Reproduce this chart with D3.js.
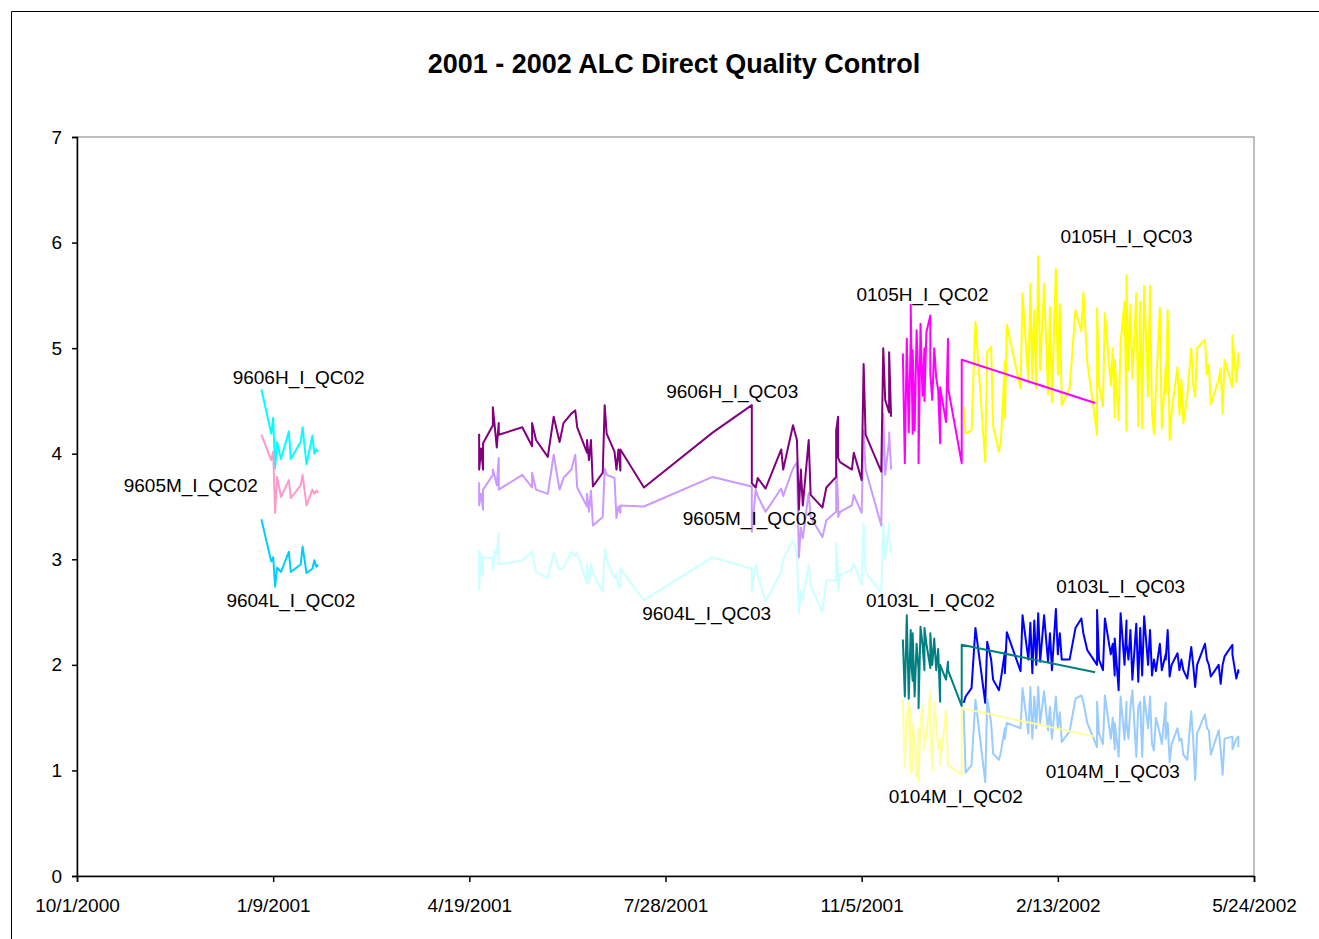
<!DOCTYPE html>
<html lang="en">
<head>
<meta charset="UTF-8">
<title>2001 - 2002 ALC Direct Quality Control</title>
<script src="https://d3js.org/d3.v7.min.js"></script>
<style>
    body { margin: 0; background: #fff; font-family: "Liberation Sans", Arial, sans-serif; }
    svg { display: block; }
    .tick text { font-family: "Liberation Sans", Arial, sans-serif; font-size: 19px; fill: #000; }
    .serie { fill: none; stroke-width: 2; stroke-linejoin: round; }
    .lbl { font-size: 19px; fill: #000; }
</style>
</head>
<body>
<div id="chart"></div>
<script>
// x values are Excel date serials (36800 = 10/1/2000)
var xTicks = [36800, 36900, 37000, 37100, 37200, 37300, 37400];
var yTicks = [0, 1, 2, 3, 4, 5, 6, 7];

// QC02, Jan 2001
var datesA = [36894, 36899, 36900, 36901, 36902, 36904, 36908, 36909, 36914, 36915, 36917, 36920, 36921, 36922, 36923];
var h9606qc02 = [4.61,4.19,4.34,3.86,4.11,3.95,4.21,3.95,4.11,4.25,3.90,4.17,4.00,4.04,4.02];
var m9605qc02 = [4.18,3.94,4.02,3.44,3.78,3.59,3.75,3.58,3.70,3.80,3.51,3.66,3.62,3.65,3.63];
var l9604qc02 = [3.38,2.98,3.02,2.74,2.92,2.88,3.07,2.88,2.95,3.12,2.87,2.91,2.99,2.93,2.95];

// QC03, Apr - Nov 2001
var datesB = [37005,37005,37006,37007,37007,37012,37012,37013,37014,37015,
              37015,37027,37032,37032,37034,37040,37043,37046,37048,37052,
              37054,37055,37060,37060,37061,37062,37063,37068,37069,37070,
              37074,37075,37076,37077,37077,37089,37124,37144,37144,37144,
              37146,37147,37151,37159,37160,37165,37167,37168,37169,37170,
              37173,37174,37180,37182,37187,37187,37188,37188,37189,37195,
              37196,37200,37201,37202,37210,37211,37212,37214,37214,37215];
var h9606qc03 = [4.19,3.85,4.05,3.85,4.10,4.27,4.44,4.25,4.06,4.29,
                 4.18,4.25,4.07,4.29,4.13,3.97,4.35,4.11,4.29,4.38,
                 4.41,4.25,4.01,4.13,3.94,4.13,3.69,3.82,4.46,4.19,
                 4.02,3.85,4.04,3.84,4.04,3.68,4.20,4.46,4.08,3.72,
                 3.68,3.77,3.67,4.04,3.85,4.27,4.13,3.47,3.85,3.51,
                 4.13,3.61,3.49,3.68,3.78,4.22,4.35,3.96,3.92,3.85,
                 4.01,3.75,4.85,4.18,3.83,5.00,4.51,4.39,4.96,4.35];
var m9605qc03 = [3.73,3.51,3.62,3.47,3.66,3.80,3.85,3.78,3.70,3.96,
                 3.66,3.80,3.68,3.82,3.66,3.62,3.99,3.66,3.77,3.85,
                 3.99,3.68,3.50,3.62,3.45,3.65,3.32,3.40,3.86,3.80,
                 3.77,3.39,3.50,3.44,3.51,3.50,3.78,3.69,3.50,3.26,
                 3.66,3.60,3.45,3.67,3.60,3.86,3.92,3.02,3.30,3.20,
                 3.63,3.40,3.21,3.37,3.45,3.92,3.55,3.40,3.45,3.51,
                 3.61,3.44,4.22,3.85,3.32,4.38,3.80,4.13,4.20,3.85];
var l9604qc03 = [3.09,2.71,3.05,2.85,3.02,3.01,2.90,3.08,3.05,3.25,
                 2.95,2.99,3.07,3.08,2.88,2.82,3.06,2.90,2.92,3.07,
                 3.03,3.06,2.77,2.95,2.78,2.96,2.87,2.69,3.10,3.00,
                 2.82,2.86,2.75,2.73,2.91,2.61,3.02,2.91,2.80,2.69,
                 2.95,2.85,2.60,2.88,3.00,3.18,3.05,2.49,2.70,2.62,
                 2.95,2.75,2.50,2.80,2.80,3.15,2.90,2.70,2.85,2.90,
                 2.96,2.76,3.34,2.88,2.68,3.34,3.00,3.34,3.20,3.06];

// QC02, Nov 2001 - Mar 2002
var datesC = [37221,37222,37223,37224,37225,37225,37226,37226,37227,37228,
              37229,37229,37230,37231,37232,37232,37233,37235,37235,37236,
              37237,37238,37239,37240,37240,37243,37244,37244,37251,37251,
              37319];
var h0105qc02 = [4.95,3.91,5.09,4.20,5.09,5.41,4.19,4.98,4.22,5.17,
                 4.65,3.91,5.23,4.55,5.00,4.50,5.15,5.31,4.75,4.51,
                 5.00,4.72,4.60,4.10,4.63,4.30,5.09,4.63,3.91,4.89,
                 4.48];
var l0103qc02 = [2.24,1.70,2.47,1.68,2.33,2.10,1.85,2.30,1.70,2.20,
                 1.95,1.59,2.36,2.20,1.95,2.35,2.20,1.97,2.30,2.00,
                 2.25,1.95,2.15,1.65,2.00,1.86,2.03,1.95,1.61,2.19,
                 1.93];
var m0104qc02 = [1.67,1.03,1.50,1.64,0.97,1.60,1.00,1.45,1.30,0.94,
                 1.40,0.89,1.45,1.60,1.20,1.35,1.30,1.76,1.40,1.00,
                 1.65,1.45,1.20,1.30,1.05,1.57,1.05,1.05,0.96,1.59,
                 1.32];

// QC03, Dec 2001 - May 2002
var datesD = [37252,37253,37256,37258,37263,37264,37266,37267,37270,37271,
              37273,37273,37274,37281,37282,37285,37286,37287,37288,37289,
              37290,37291,37293,37295,37296,37297,37299,37300,37301,37302,
              37306,37309,37312,37313,37315,37320,37320,37321,37323,37324,
              37327,37328,37329,37329,37331,37332,37334,37335,37335,37336,
              37337,37338,37340,37341,37342,37343,37344,37346,37347,37348,
              37349,37350,37352,37353,37355,37355,37356,37357,37358,37361,
              37362,37363,37364,37366,37368,37369,37370,37371,37375,37376,
              37377,37378,37382,37383,37384,37385,37389,37389,37391,37392,
              37392];
var h0105qc03 = [4.45,4.19,4.22,5.25,3.92,4.97,5.01,4.26,4.02,4.13,
                 4.87,4.34,5.22,4.62,5.52,4.67,5.61,4.70,5.36,4.62,
                 5.87,4.79,5.61,4.56,5.39,4.49,5.75,4.75,5.42,4.46,
                 4.62,5.36,5.16,5.53,4.87,4.18,5.38,4.65,4.45,5.33,
                 4.65,5.00,4.34,4.89,4.32,5.05,5.44,4.22,5.69,4.79,
                 5.41,4.71,5.52,4.26,5.44,4.24,5.59,4.54,5.59,4.38,
                 4.19,4.60,5.38,4.24,4.82,4.57,5.36,4.13,4.40,4.82,
                 4.37,4.70,4.29,4.55,5.00,4.65,4.54,5.00,5.08,4.75,
                 4.84,4.47,4.70,4.81,4.38,4.89,4.63,5.12,4.68,4.95,
                 4.82];
var l0103qc03 = [1.64,1.70,1.78,2.35,1.64,2.22,2.05,1.86,1.76,1.87,
                 2.12,1.92,2.31,1.94,2.47,2.05,2.40,1.92,2.42,2.00,
                 2.49,2.03,2.47,2.03,2.30,1.95,2.53,2.10,2.30,2.05,
                 2.05,2.35,2.44,2.30,2.14,2.00,2.52,2.05,1.95,2.44,
                 2.10,2.20,1.90,2.25,1.76,2.49,2.00,2.42,2.20,2.05,
                 2.33,1.86,2.39,1.84,2.35,1.90,2.46,2.00,2.33,1.90,
                 2.05,1.94,2.20,1.95,2.10,2.05,2.33,1.89,2.00,2.11,
                 1.95,2.05,1.95,1.87,2.17,2.00,1.79,2.00,2.20,2.05,
                 2.00,1.89,2.00,1.82,2.00,2.08,2.19,2.10,1.87,1.95,
                 1.92];
var m0104qc03 = [1.57,0.98,1.05,1.67,0.89,1.68,1.45,1.16,1.10,1.18,
                 1.40,1.30,1.45,1.40,1.78,1.35,1.79,1.30,1.70,1.40,
                 1.79,1.45,1.75,1.38,1.60,1.30,1.70,1.40,1.55,1.27,
                 1.37,1.68,1.71,1.65,1.45,1.22,1.65,1.35,1.25,1.71,
                 1.30,1.50,1.20,1.45,1.13,1.70,1.29,1.65,1.45,1.30,
                 1.60,1.76,1.13,1.60,1.65,1.13,1.70,1.40,1.70,1.25,
                 1.19,1.50,1.35,1.25,1.64,1.30,1.45,1.08,1.25,1.40,
                 1.28,1.30,1.15,1.10,1.56,1.30,0.91,1.35,1.53,1.40,
                 1.38,1.15,1.38,1.20,0.96,1.30,1.32,1.20,1.30,1.32,
                 1.22];

// series label anchors (date serial, value) = centre of the label text
var labelNames = ['9606H_I_QC02','9605M_I_QC02','9604L_I_QC02',
                  '9606H_I_QC03','9605M_I_QC03','9604L_I_QC03',
                  '0105H_I_QC02','0103L_I_QC02','0104M_I_QC02',
                  '0105H_I_QC03','0103L_I_QC03','0104M_I_QC03'];
var labelDates = [36913, 36858, 36909, 37134, 37143, 37121, 37231, 37235, 37248, 37335, 37332, 37328];
var labelVals  = [4.72, 3.70, 2.61, 4.59, 3.39, 2.49, 5.51, 2.61, 0.75, 6.06, 2.74, 0.99];

var series = [
    {dates: datesA, vals: h9606qc02, color: '#00FFFF'},
    {dates: datesA, vals: m9605qc02, color: '#FF99CC'},
    {dates: datesA, vals: l9604qc02, color: '#00CCFF'},
    {dates: datesB, vals: l9604qc03, color: '#CCFFFF'},
    {dates: datesB, vals: m9605qc03, color: '#CC99FF'},
    {dates: datesB, vals: h9606qc03, color: '#800080'},
    {dates: datesD, vals: h0105qc03, color: '#FFFF00'},
    {dates: datesD, vals: l0103qc03, color: '#0000FF'},
    {dates: datesD, vals: m0104qc03, color: '#99CCFF'},
    {dates: datesC, vals: h0105qc02, color: '#FF00FF'},
    {dates: datesC, vals: l0103qc02, color: '#008080'},
    {dates: datesC, vals: m0104qc02, color: '#FFFF99'}
];

function toDate(serial) {
    return new Date(Date.UTC(1899, 11, 30) + serial * 86400000);
}

var w = 1319, h = 939;
var m = {top: 137, left: 77, bottom: 63, right: 65};

var svg = d3.select('#chart').append('svg')
    .attr('width', w)
    .attr('height', h);

// chart area border: only top and left edges are inside the picture
svg.append('path')
    .attr('d', 'M11.5,' + h + 'V11.5H' + w)
    .attr('fill', 'none')
    .attr('stroke', '#000');

var xScale = d3.scaleUtc()
    .domain([toDate(xTicks[0]), toDate(xTicks[xTicks.length - 1])])
    .range([m.left, w - m.right]);
var yScale = d3.scaleLinear()
    .domain([0, 7])
    .range([h - m.bottom, m.top]);

// plot area frame (grey)
svg.append('rect')
    .attr('x', m.left).attr('y', m.top)
    .attr('width', w - m.right - m.left).attr('height', h - m.bottom - m.top)
    .attr('fill', 'none')
    .attr('stroke', '#808080');

svg.append('text')
    .attr('x', 674).attr('y', 73)
    .attr('text-anchor', 'middle')
    .style('font-size', '27px')
    .style('font-weight', 'bold')
    .text('2001 - 2002 ALC Direct Quality Control');

var line = d3.line()
    .x(function(d){ return xScale(toDate(d[0])); })
    .y(function(d){ return yScale(d[1]); });

svg.append('g').selectAll('path')
    .data(series)
    .enter()
    .append('path')
    .attr('class', 'serie')
    .attr('stroke', function(s){ return s.color; })
    .attr('d', function(s){
        return line(s.dates.map(function(dt, i){ return [dt, s.vals[i]]; }));
    });

var fmt = d3.utcFormat('%-m/%-d/%Y');
var xAxis = d3.axisBottom(xScale)
    .tickValues(xTicks.map(toDate))
    .tickFormat(fmt)
    .tickSize(6)
    .tickPadding(17);
var yAxis = d3.axisLeft(yScale)
    .tickValues(yTicks)
    .tickFormat(d3.format('d'))
    .tickSize(5)
    .tickPadding(10);

svg.append('g')
    .attr('transform', 'translate(0,' + (h - m.bottom) + ')')
    .call(xAxis)
    .call(function(g){ g.selectAll('line, path').attr('stroke', '#000').attr('stroke-width', 1.5); });
svg.append('g')
    .attr('transform', 'translate(' + m.left + ',0)')
    .call(yAxis)
    .call(function(g){ g.selectAll('line, path').attr('stroke', '#000').attr('stroke-width', 1.5); });

// series labels
svg.append('g').selectAll('text')
    .data(labelNames)
    .enter()
    .append('text')
    .attr('class', 'lbl')
    .attr('text-anchor', 'middle')
    .attr('dy', '0.35em')
    .attr('x', function(d, i){ return xScale(toDate(labelDates[i])); })
    .attr('y', function(d, i){ return yScale(labelVals[i]); })
    .text(function(d){ return d; });
</script>
</body>
</html>
